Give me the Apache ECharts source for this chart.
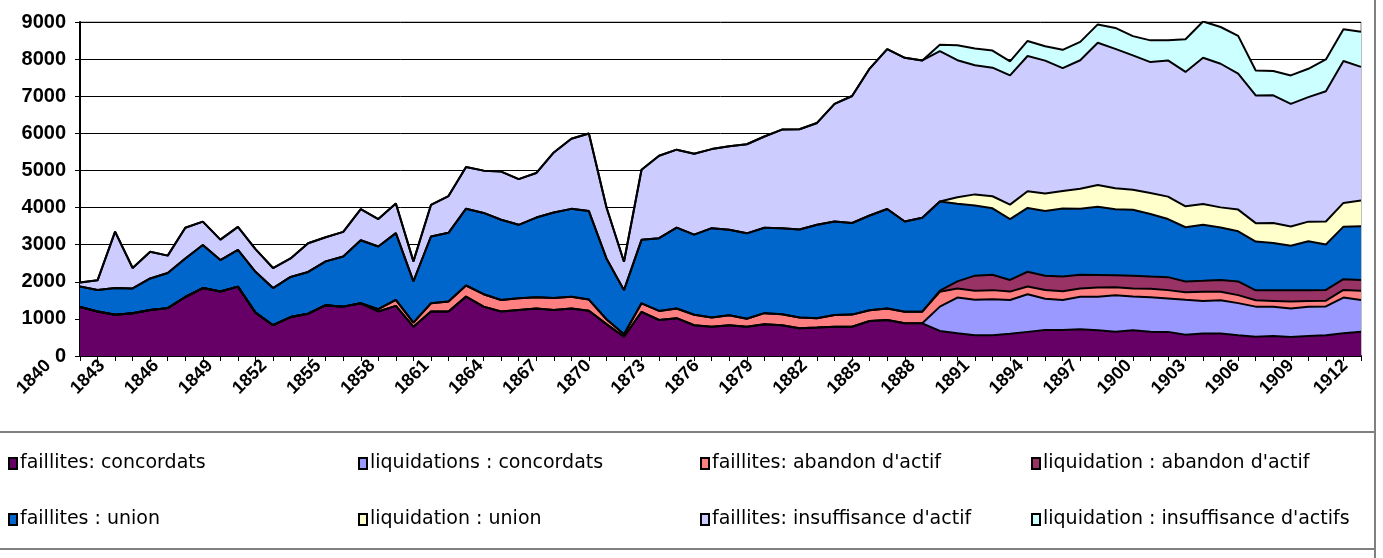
<!DOCTYPE html>
<html>
<head>
<meta charset="utf-8">
<script src="https://cdn.jsdelivr.net/npm/echarts@6/dist/echarts.min.js"></script>
<style>
html, body { margin: 0; padding: 0; background: #fff; }
#main { width: 1383px; height: 558px; }
</style>
</head>
<body>
<div id="main"></div>
<script>
// annees 1840 - 1913
var years = [];
for (var y = 1840; y <= 1913; y++) years.push(String(y));

var faillitesConcordats = [1320,1200,1110,1150,1240,1290,1590,1830,1740,1870,
	1170,830,1050,1140,1370,1330,1420,1200,1350,790,
	1200,1200,1600,1330,1200,1240,1280,1240,1280,1220,
	860,520,1190,970,1020,830,785,830,790,855,
	830,750,765,790,790,945,970,880,880,675,
	610,560,560,600,650,700,700,720,695,655,
	695,655,650,570,605,605,560,520,540,515,
	540,560,610,655];

var liquidationsConcordats = [0,0,0,0,0,0,0,0,0,0,
	0,0,0,0,0,0,0,0,0,0,
	0,0,0,0,0,0,0,0,0,0,
	0,0,0,0,0,0,0,0,0,0,
	0,0,0,0,0,0,0,0,0,655,
	965,955,970,910,1015,845,810,875,900,980,
	910,925,900,945,880,900,865,810,785,765,
	790,775,965,855];

var faillitesAbandon = [0,0,0,0,0,0,0,0,0,0,
	0,0,0,0,0,0,0,60,160,110,
	220,270,300,335,310,315,300,325,315,300,
	130,65,230,245,260,280,250,270,215,300,
	295,290,250,315,325,290,310,315,315,400,
	245,245,245,225,210,235,235,225,250,215,
	215,235,225,205,245,225,215,170,160,190,
	155,155,205,245];

var liquidationAbandon = [0,0,0,0,0,0,0,0,0,0,
	0,0,0,0,0,0,0,0,0,0,
	0,0,0,0,0,0,0,0,0,0,
	0,0,0,0,0,0,0,0,0,0,
	0,0,0,0,0,0,0,0,0,30,
	190,405,415,315,395,380,395,370,340,325,
	340,325,350,290,295,315,370,270,290,305,
	290,290,290,290];

var faillitesUnion = [550,580,720,670,850,945,1035,1160,845,990,
	1100,1000,1080,1125,1180,1350,1700,1690,1800,1110,
	1800,1850,2070,2190,2160,1980,2150,2300,2370,2385,
	1640,1190,1710,1960,2180,2160,2410,2300,2300,2300,
	2320,2370,2520,2520,2470,2550,2680,2430,2530,2405,
	2090,1890,1790,1640,1720,1745,1835,1775,1835,1780,
	1780,1685,1565,1460,1510,1420,1350,1315,1270,1195,
	1315,1225,1415,1450];

var liquidationUnion = [0,0,0,0,0,0,0,0,0,0,
	0,0,0,0,0,0,0,0,0,0,
	0,0,0,0,0,0,0,0,0,0,
	0,0,0,0,0,0,0,0,0,0,
	0,0,0,0,0,0,0,0,0,0,
	180,300,325,390,450,475,470,540,585,565,
	540,565,605,565,560,540,585,495,540,520,
	530,620,640,695];

var faillitesInsuffisance = [110,260,1520,550,720,470,830,630,550,620,
	610,540,500,775,650,665,840,740,800,540,
	850,990,1125,1140,1300,1230,1200,1620,1890,2090,
	1380,765,1890,2220,2100,2180,2130,2250,2400,2460,
	2655,2700,2745,3170,3420,3960,4310,4410,4240,4050,
	3690,3480,3465,3480,3645,3580,3310,3465,3835,3755,
	3620,3530,3670,3620,3940,3870,3665,3440,3440,3305,
	3355,3510,3825,3600];

var liquidationInsuffisance = [0,0,0,0,0,0,0,0,0,0,
	0,0,0,0,0,0,0,0,0,0,
	0,0,0,0,0,0,0,0,0,0,
	0,0,0,0,0,0,0,0,0,0,
	0,0,0,0,0,0,0,0,0,175,
	405,450,460,380,405,385,495,495,495,565,
	520,585,540,880,980,990,1015,675,655,765,
	765,855,855,945];

var names = ["faillites: concordats", "liquidations : concordats", "faillites: abandon d'actif", "liquidation : abandon d'actif",
	"faillites : union", "liquidation : union", "faillites: insuffisance d'actif", "liquidation : insuffisance d'actifs"];
var values = [faillitesConcordats, liquidationsConcordats, faillitesAbandon, liquidationAbandon,
	faillitesUnion, liquidationUnion, faillitesInsuffisance, liquidationInsuffisance];
var colors = ['#660066', '#9999FF', '#FF8080', '#993366', '#0066CC', '#FFFFCC', '#CCCCFF', '#CCFFFF'];

var font = "'Liberation Sans', Arial, sans-serif";

var series = [];
for (var i = 0; i < names.length; i++) {
	series.push({
		name: names[i],
		type: 'line',
		stack: 'total',
		data: values[i],
		showSymbol: false,
		symbol: 'none',
		lineStyle: { color: '#000', width: 2 },
		areaStyle: { color: colors[i], opacity: 1 },
		itemStyle: { color: colors[i], borderColor: '#000', borderWidth: 1 }
	});
}

// legende : 4 colonnes, 2 lignes
var legendLeft = [8, 358, 700, 1031];
var legendTop = [454, 510];
var legends = [];
for (var i = 0; i < names.length; i++) {
	legends.push({
		data: [names[i]],
		left: legendLeft[i % 4],
		top: legendTop[Math.floor(i / 4)],
		icon: 'rect',
		itemWidth: 8,
		itemHeight: 11,
		itemGap: 0,
		padding: 0,
		selectedMode: false,
		textStyle: { fontFamily: "'DejaVu Sans', sans-serif", fontSize: 19, color: '#000', padding: [0, 0, 0, -2] }
	});
}

var myChart = echarts.init(document.getElementById('main'));
var option = {
	animation: false,
	backgroundColor: '#fff',
	color: colors,
	grid: [
		{ left: 80, right: 22, top: 22, bottom: 202, show: true, borderColor: '#808080', borderWidth: 1 },
		// grille pour les libelles des annees (decales comme dans Excel)
		{ left: 48, right: 20, top: 22, bottom: 202 }
	],
	legend: legends,
	xAxis: [{
		type: 'category',
		gridIndex: 0,
		boundaryGap: false,
		data: years,
		axisLine: { lineStyle: { color: '#000', width: 2 } },
		axisTick: { interval: 0, length: 5, lineStyle: { color: '#000' } },
		axisLabel: { show: false }
	}, {
		type: 'category',
		gridIndex: 1,
		boundaryGap: false,
		data: years,
		axisLine: { show: false },
		axisTick: { show: false },
		axisLabel: {
			interval: 2,
			rotate: 45,
			margin: 7,
			fontFamily: font,
			fontWeight: 'bold',
			fontSize: 18,
			color: '#000'
		}
	}],
	yAxis: [{
		type: 'value',
		gridIndex: 0,
		min: 0,
		max: 9000,
		interval: 1000,
		axisLine: { show: true, lineStyle: { color: '#000', width: 2 } },
		axisTick: { show: true, length: 5, lineStyle: { color: '#000' } },
		splitLine: { lineStyle: { color: '#000', width: 1 } },
		axisLabel: {
			margin: 14,
			fontFamily: font,
			fontWeight: 'bold',
			fontSize: 20,
			color: '#000',
			formatter: function (v) { return String(v); }
		}
	}, {
		type: 'value',
		gridIndex: 1,
		min: 0,
		max: 9000,
		show: false
	}],
	graphic: [
		{ type: 'rect', shape: { x: -2, y: 432, width: 1377, height: 117 }, style: { fill: null, stroke: '#808080', lineWidth: 2 }, silent: true },
		{ type: 'line', shape: { x1: 1375, y1: 0, x2: 1375, y2: 558 }, style: { stroke: '#808080', lineWidth: 2 }, silent: true }
	],
	series: series
};
myChart.setOption(option);
</script>
</body>
</html>
